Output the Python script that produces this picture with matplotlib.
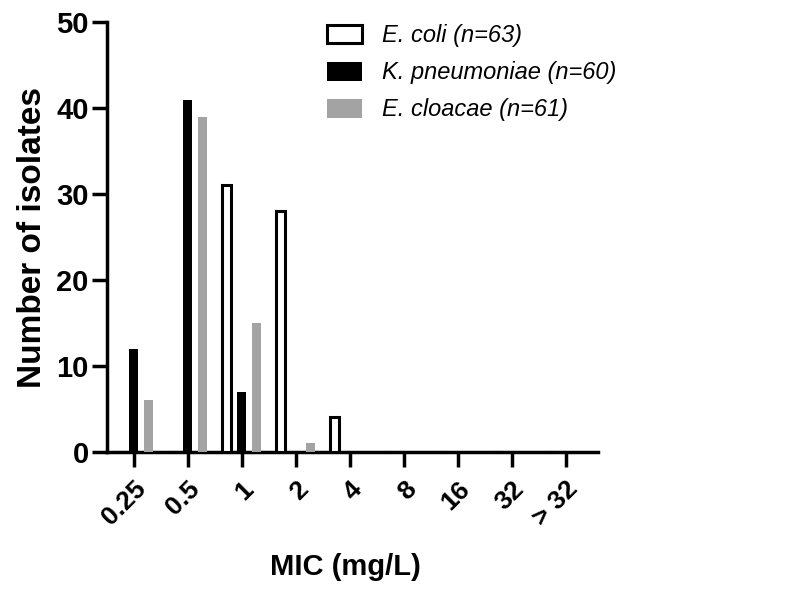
import numpy as np
import matplotlib.pyplot as plt

plt.rcParams['font.family'] = ['Liberation Sans', 'DejaVu Sans']

# MIC categories and isolate counts per species
mic_labels = ['0.25', '0.5', '1', '2', '4', '8', '16', '32', '> 32']
e_coli = [0, 0, 31, 28, 4, 0, 0, 0, 0]
k_pneumoniae = [12, 41, 7, 0, 0, 0, 0, 0, 0]
e_cloacae = [6, 39, 15, 1, 0, 0, 0, 0, 0]

x = np.arange(len(mic_labels))
width = 0.17
offset = 0.275

fig = plt.figure(figsize=(7.91, 6.0), dpi=100)
ax = fig.add_axes([0.135, 0.247, 0.621, 0.716])

ax.bar(x - offset, e_coli, width, color='white', edgecolor='black',
       linewidth=2.2, label='E. coli (n=63)', zorder=3)
ax.bar(x, k_pneumoniae, width, color='black', label='K. pneumoniae (n=60)', zorder=3)
ax.bar(x + offset, e_cloacae, width, color='#a3a3a3', label='E. cloacae (n=61)', zorder=3)

ax.set_xlim(-0.5, 8.6)
ax.set_ylim(0, 50)
ax.set_yticks(range(0, 51, 10))
ax.set_xticks(x)
ax.set_xticklabels(mic_labels, rotation=45, ha='right', rotation_mode='anchor',
                   fontsize=19, fontweight='bold')
for lbl in ax.get_yticklabels():
    lbl.set_fontsize(21)
    lbl.set_fontweight('bold')

for side in ['top', 'right']:
    ax.spines[side].set_visible(False)
for side in ['left', 'bottom']:
    ax.spines[side].set_linewidth(2.5)
ax.tick_params(axis='both', direction='out', length=11, width=2.5, pad=2)
ax.tick_params(axis='x', pad=7)

ax.set_ylabel('Number of isolates', fontsize=24, fontweight='bold', labelpad=6)
ax.set_xlabel('MIC (mg/L)', fontsize=21, fontweight='bold', labelpad=14)
ax.xaxis.set_label_coords(0.485, -0.235)

leg = ax.legend(loc='upper left', bbox_to_anchor=(0.405, 1.045), frameon=False,
                prop={'size': 17, 'style': 'italic'}, handlelength=1.5,
                handleheight=0.85, labelspacing=0.6, handletextpad=0.85)

fig.savefig('out.png', dpi=100)
